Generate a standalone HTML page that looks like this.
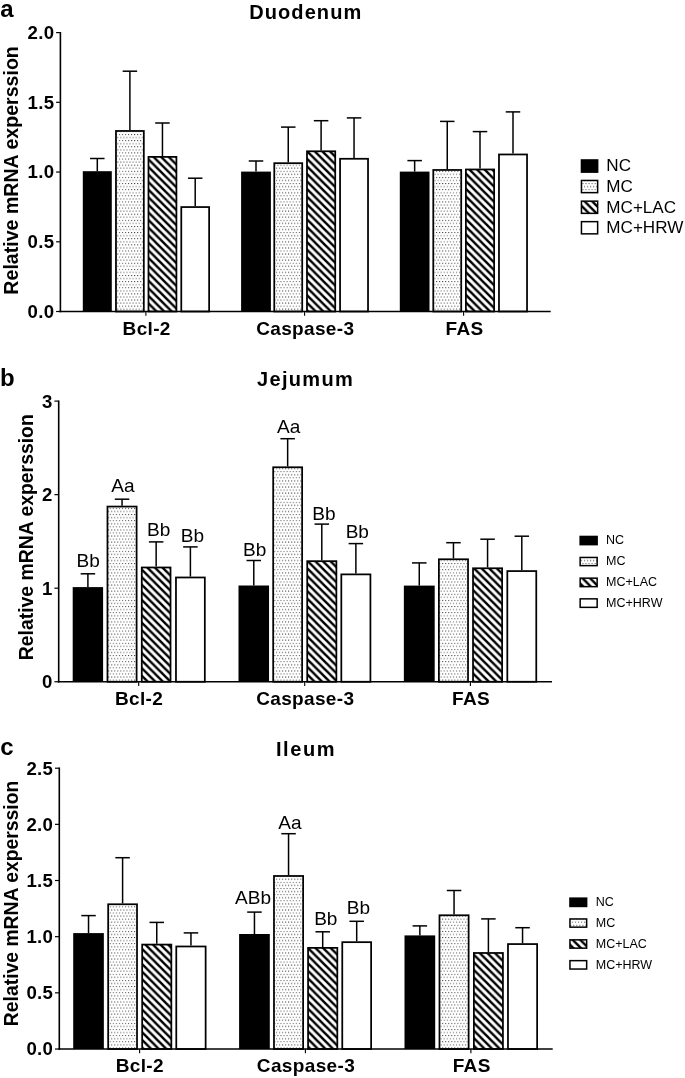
<!DOCTYPE html>
<html lang="en"><head><meta charset="utf-8"><title>Relative mRNA expression</title>
<style>
html,body{margin:0;padding:0;background:#fff}
svg{display:block}
svg text{font-family:"Liberation Sans",Arial,Helvetica,sans-serif;fill:#000;stroke:none}
</style></head><body>
<svg width="685" height="1078" viewBox="0 0 685 1078" stroke="#000" fill="none">
<defs>
<pattern id="dots" patternUnits="userSpaceOnUse" width="3.05" height="6.13" patternTransform="translate(118.85,134.02)">
<rect width="3.05" height="6.13" fill="#fff" stroke="none"/>
<rect x="0" y="0" width="1" height="1" fill="#404040" stroke="none"/>
<rect x="1.525" y="3.065" width="1" height="1" fill="#404040" stroke="none"/>
</pattern>
<pattern id="hatch" patternUnits="userSpaceOnUse" width="7.58" height="7.58" patternTransform="translate(0,3.32)">
<rect width="7.58" height="7.58" fill="#fff" stroke="none"/>
<path d="M-7.58,-7.58 L15.16,15.16 M-7.58,0 L7.58,15.16 M0,-7.58 L15.16,7.58" stroke="#000" stroke-width="2.45" fill="none"/>
</pattern>
</defs>
<rect width="685" height="1078" fill="#fff" stroke="none"/>
<line x1="97.3" y1="171.2" x2="97.3" y2="158.5" stroke-width="1.5"/>
<line x1="90.05" y1="158.5" x2="104.55" y2="158.5" stroke-width="1.5"/>
<rect x="82.8" y="171.2" width="29" height="140.3" fill="#000" stroke="none"/>
<line x1="129.9" y1="130.1" x2="129.9" y2="71.2" stroke-width="1.5"/>
<line x1="122.65" y1="71.2" x2="137.15" y2="71.2" stroke-width="1.5"/>
<rect x="115.97" y="130.97" width="27.85" height="180.53" fill="url(#dots)" stroke-width="1.75"/>
<line x1="162.45" y1="156" x2="162.45" y2="123" stroke-width="1.5"/>
<line x1="155.2" y1="123" x2="169.7" y2="123" stroke-width="1.5"/>
<rect x="148.47" y="156.88" width="27.95" height="154.62" fill="url(#hatch)" stroke-width="1.75"/>
<line x1="195.2" y1="206.2" x2="195.2" y2="178.2" stroke-width="1.5"/>
<line x1="187.95" y1="178.2" x2="202.45" y2="178.2" stroke-width="1.5"/>
<rect x="181.28" y="207.07" width="27.85" height="104.43" fill="#fff" stroke-width="1.75"/>
<line x1="256" y1="171.6" x2="256" y2="161" stroke-width="1.5"/>
<line x1="248.75" y1="161" x2="263.25" y2="161" stroke-width="1.5"/>
<rect x="241.1" y="171.6" width="29.8" height="139.9" fill="#000" stroke="none"/>
<line x1="288.25" y1="162.3" x2="288.25" y2="127.1" stroke-width="1.5"/>
<line x1="281" y1="127.1" x2="295.5" y2="127.1" stroke-width="1.5"/>
<rect x="274.27" y="163.18" width="27.95" height="148.32" fill="url(#dots)" stroke-width="1.75"/>
<line x1="321.1" y1="150.4" x2="321.1" y2="120.7" stroke-width="1.5"/>
<line x1="313.85" y1="120.7" x2="328.35" y2="120.7" stroke-width="1.5"/>
<rect x="306.98" y="151.28" width="28.25" height="160.22" fill="url(#hatch)" stroke-width="1.75"/>
<line x1="354.05" y1="157.9" x2="354.05" y2="117.9" stroke-width="1.5"/>
<line x1="346.8" y1="117.9" x2="361.3" y2="117.9" stroke-width="1.5"/>
<rect x="340.07" y="158.78" width="27.95" height="152.72" fill="#fff" stroke-width="1.75"/>
<line x1="414.65" y1="171.6" x2="414.65" y2="160.6" stroke-width="1.5"/>
<line x1="407.4" y1="160.6" x2="421.9" y2="160.6" stroke-width="1.5"/>
<rect x="399.8" y="171.6" width="29.7" height="139.9" fill="#000" stroke="none"/>
<line x1="447.25" y1="169.1" x2="447.25" y2="121.4" stroke-width="1.5"/>
<line x1="440" y1="121.4" x2="454.5" y2="121.4" stroke-width="1.5"/>
<rect x="433.27" y="169.97" width="27.95" height="141.53" fill="url(#dots)" stroke-width="1.75"/>
<line x1="480" y1="168.6" x2="480" y2="131.6" stroke-width="1.5"/>
<line x1="472.75" y1="131.6" x2="487.25" y2="131.6" stroke-width="1.5"/>
<rect x="465.88" y="169.47" width="28.25" height="142.03" fill="url(#hatch)" stroke-width="1.75"/>
<line x1="513" y1="153.6" x2="513" y2="111.9" stroke-width="1.5"/>
<line x1="505.75" y1="111.9" x2="520.25" y2="111.9" stroke-width="1.5"/>
<rect x="498.98" y="154.47" width="28.05" height="157.03" fill="#fff" stroke-width="1.75"/>
<line x1="60.4" y1="32" x2="60.4" y2="312.3" stroke-width="1.6"/>
<line x1="59.6" y1="311.5" x2="550.7" y2="311.5" stroke-width="1.6"/>
<line x1="56.1" y1="32.6" x2="60.4" y2="32.6" stroke-width="1.2"/>
<text x="54.4" y="39" font-size="18.6" font-weight="bold" text-anchor="end" letter-spacing="0.35">2.0</text>
<line x1="56.1" y1="102.3" x2="60.4" y2="102.3" stroke-width="1.2"/>
<text x="54.4" y="108.7" font-size="18.6" font-weight="bold" text-anchor="end" letter-spacing="0.35">1.5</text>
<line x1="56.1" y1="172.05" x2="60.4" y2="172.05" stroke-width="1.2"/>
<text x="54.4" y="178.45" font-size="18.6" font-weight="bold" text-anchor="end" letter-spacing="0.35">1.0</text>
<line x1="56.1" y1="241.8" x2="60.4" y2="241.8" stroke-width="1.2"/>
<text x="54.4" y="248.2" font-size="18.6" font-weight="bold" text-anchor="end" letter-spacing="0.35">0.5</text>
<line x1="56.1" y1="311.5" x2="60.4" y2="311.5" stroke-width="1.2"/>
<text x="54.4" y="317.9" font-size="18.6" font-weight="bold" text-anchor="end" letter-spacing="0.35">0.0</text>
<line x1="145.9" y1="311.5" x2="145.9" y2="315.8" stroke-width="1.1"/>
<text x="146.68" y="335.1" font-size="19" font-weight="bold" text-anchor="middle" letter-spacing="0.35">Bcl-2</text>
<line x1="304.6" y1="311.5" x2="304.6" y2="315.8" stroke-width="1.1"/>
<text x="305.28" y="335.1" font-size="19" font-weight="bold" text-anchor="middle" letter-spacing="0.35">Caspase-3</text>
<line x1="463.6" y1="311.5" x2="463.6" y2="315.8" stroke-width="1.1"/>
<text x="464.57" y="335.1" font-size="19" font-weight="bold" text-anchor="middle" letter-spacing="0.35">FAS</text>
<text x="305.75" y="19.4" font-size="20" font-weight="bold" text-anchor="middle" letter-spacing="1.09">Duodenum</text>
<text x="0.3" y="17.2" font-size="24" font-weight="bold">a</text>
<text transform="translate(18.4,170.4) rotate(-90)" font-size="19.5" font-weight="bold" text-anchor="middle" textLength="248.5" lengthAdjust="spacingAndGlyphs">Relative mRNA experssion</text>
<rect x="580.7" y="159.2" width="17.7" height="13.7" fill="#000" stroke="none"/>
<text transform="translate(606.3,171.35) scale(1.069,1)" font-size="16">NC</text>
<rect x="581.45" y="180.45" width="16.2" height="12.2" fill="url(#dots)" stroke-width="1.5"/>
<text transform="translate(606.3,191.85) scale(1.069,1)" font-size="16">MC</text>
<rect x="581.45" y="201.15" width="16.2" height="12.2" fill="url(#hatch)" stroke-width="1.5"/>
<text transform="translate(606.3,212.55) scale(1.069,1)" font-size="16">MC+LAC</text>
<rect x="581.45" y="221.65" width="16.2" height="12.2" fill="#fff" stroke-width="1.5"/>
<text transform="translate(606.3,233.05) scale(1.069,1)" font-size="16">MC+HRW</text>
<line x1="87.9" y1="587.1" x2="87.9" y2="573.8" stroke-width="1.5"/>
<line x1="80.65" y1="573.8" x2="95.15" y2="573.8" stroke-width="1.5"/>
<rect x="72.7" y="587.1" width="30.4" height="94.65" fill="#000" stroke="none"/>
<line x1="122.05" y1="505.7" x2="122.05" y2="499.2" stroke-width="1.5"/>
<line x1="114.8" y1="499.2" x2="129.3" y2="499.2" stroke-width="1.5"/>
<rect x="107.47" y="506.57" width="29.15" height="175.18" fill="url(#dots)" stroke-width="1.75"/>
<line x1="156.15" y1="566.6" x2="156.15" y2="541.9" stroke-width="1.5"/>
<line x1="148.9" y1="541.9" x2="163.4" y2="541.9" stroke-width="1.5"/>
<rect x="141.78" y="567.48" width="28.75" height="114.27" fill="url(#hatch)" stroke-width="1.75"/>
<line x1="190.4" y1="576.6" x2="190.4" y2="546.9" stroke-width="1.5"/>
<line x1="183.15" y1="546.9" x2="197.65" y2="546.9" stroke-width="1.5"/>
<rect x="175.97" y="577.48" width="28.85" height="104.27" fill="#fff" stroke-width="1.75"/>
<line x1="253.78" y1="585.5" x2="253.78" y2="560.5" stroke-width="1.5"/>
<line x1="246.53" y1="560.5" x2="261.02" y2="560.5" stroke-width="1.5"/>
<rect x="238.5" y="585.5" width="30.55" height="96.25" fill="#000" stroke="none"/>
<line x1="287.65" y1="466.4" x2="287.65" y2="438.7" stroke-width="1.5"/>
<line x1="280.4" y1="438.7" x2="294.9" y2="438.7" stroke-width="1.5"/>
<rect x="273.18" y="467.27" width="28.95" height="214.48" fill="url(#dots)" stroke-width="1.75"/>
<line x1="321.8" y1="560.3" x2="321.8" y2="524.1" stroke-width="1.5"/>
<line x1="314.55" y1="524.1" x2="329.05" y2="524.1" stroke-width="1.5"/>
<rect x="307.23" y="561.17" width="29.15" height="120.58" fill="url(#hatch)" stroke-width="1.75"/>
<line x1="355.88" y1="573.5" x2="355.88" y2="543.6" stroke-width="1.5"/>
<line x1="348.62" y1="543.6" x2="363.12" y2="543.6" stroke-width="1.5"/>
<rect x="341.32" y="574.38" width="29.1" height="107.38" fill="#fff" stroke-width="1.75"/>
<line x1="419.27" y1="585.6" x2="419.27" y2="562.9" stroke-width="1.5"/>
<line x1="412.02" y1="562.9" x2="426.52" y2="562.9" stroke-width="1.5"/>
<rect x="403.85" y="585.6" width="30.85" height="96.15" fill="#000" stroke="none"/>
<line x1="453.45" y1="558.4" x2="453.45" y2="542.7" stroke-width="1.5"/>
<line x1="446.2" y1="542.7" x2="460.7" y2="542.7" stroke-width="1.5"/>
<rect x="438.88" y="559.27" width="29.15" height="122.48" fill="url(#dots)" stroke-width="1.75"/>
<line x1="487.57" y1="567.4" x2="487.57" y2="539.2" stroke-width="1.5"/>
<line x1="480.32" y1="539.2" x2="494.82" y2="539.2" stroke-width="1.5"/>
<rect x="473.02" y="568.27" width="29.1" height="113.48" fill="url(#hatch)" stroke-width="1.75"/>
<line x1="521.8" y1="570.2" x2="521.8" y2="536.2" stroke-width="1.5"/>
<line x1="514.55" y1="536.2" x2="529.05" y2="536.2" stroke-width="1.5"/>
<rect x="507.32" y="571.08" width="28.95" height="110.67" fill="#fff" stroke-width="1.75"/>
<line x1="58.7" y1="400.5" x2="58.7" y2="682.55" stroke-width="1.6"/>
<line x1="57.9" y1="681.75" x2="552" y2="681.75" stroke-width="1.6"/>
<line x1="54.4" y1="401.1" x2="58.7" y2="401.1" stroke-width="1.2"/>
<text x="52.7" y="407.5" font-size="18.6" font-weight="bold" text-anchor="end" letter-spacing="0.35">3</text>
<line x1="54.4" y1="494.65" x2="58.7" y2="494.65" stroke-width="1.2"/>
<text x="52.7" y="501.05" font-size="18.6" font-weight="bold" text-anchor="end" letter-spacing="0.35">2</text>
<line x1="54.4" y1="588.2" x2="58.7" y2="588.2" stroke-width="1.2"/>
<text x="52.7" y="594.6" font-size="18.6" font-weight="bold" text-anchor="end" letter-spacing="0.35">1</text>
<line x1="54.4" y1="681.75" x2="58.7" y2="681.75" stroke-width="1.2"/>
<text x="52.7" y="688.15" font-size="18.6" font-weight="bold" text-anchor="end" letter-spacing="0.35">0</text>
<line x1="138.7" y1="681.75" x2="138.7" y2="686.05" stroke-width="1.1"/>
<text x="139.08" y="705.4" font-size="19" font-weight="bold" text-anchor="middle" letter-spacing="0.35">Bcl-2</text>
<line x1="304.7" y1="681.75" x2="304.7" y2="686.05" stroke-width="1.1"/>
<text x="305.28" y="705.4" font-size="19" font-weight="bold" text-anchor="middle" letter-spacing="0.35">Caspase-3</text>
<line x1="470.4" y1="681.75" x2="470.4" y2="686.05" stroke-width="1.1"/>
<text x="470.98" y="705.4" font-size="19" font-weight="bold" text-anchor="middle" letter-spacing="0.35">FAS</text>
<text x="305.55" y="386.4" font-size="20" font-weight="bold" text-anchor="middle" letter-spacing="1.3">Jejumum</text>
<text x="0.1" y="386.3" font-size="24" font-weight="bold">b</text>
<text transform="translate(32.8,537.2) rotate(-90)" font-size="19.5" font-weight="bold" text-anchor="middle" textLength="246" lengthAdjust="spacingAndGlyphs">Relative mRNA experssion</text>
<text transform="translate(88.1,566.8) scale(1.06,1)" font-size="18" text-anchor="middle">Bb</text>
<text transform="translate(122.9,492) scale(1.06,1)" font-size="18" text-anchor="middle">Aa</text>
<text transform="translate(158.6,536.1) scale(1.06,1)" font-size="18" text-anchor="middle">Bb</text>
<text transform="translate(192.4,541.9) scale(1.06,1)" font-size="18" text-anchor="middle">Bb</text>
<text transform="translate(254.7,555.5) scale(1.06,1)" font-size="18" text-anchor="middle">Bb</text>
<text transform="translate(288.6,433) scale(1.06,1)" font-size="18" text-anchor="middle">Aa</text>
<text transform="translate(324,519.8) scale(1.06,1)" font-size="18" text-anchor="middle">Bb</text>
<text transform="translate(357.3,537.8) scale(1.06,1)" font-size="18" text-anchor="middle">Bb</text>
<rect x="579.4" y="535.7" width="18.5" height="9.7" fill="#000" stroke="none"/>
<text x="606.1" y="544.35" font-size="12.5">NC</text>
<rect x="580.15" y="557.45" width="17" height="8.2" fill="url(#dots)" stroke-width="1.5"/>
<text x="606.1" y="565.35" font-size="12.5">MC</text>
<rect x="580.15" y="578.15" width="17" height="8.5" fill="url(#hatch)" stroke-width="1.5"/>
<text x="606.1" y="586.2" font-size="12.5">MC+LAC</text>
<rect x="580.15" y="598.85" width="17" height="8.5" fill="#fff" stroke-width="1.5"/>
<text x="606.1" y="606.9" font-size="12.5">MC+HRW</text>
<line x1="88.53" y1="933.1" x2="88.53" y2="915.6" stroke-width="1.5"/>
<line x1="81.28" y1="915.6" x2="95.78" y2="915.6" stroke-width="1.5"/>
<rect x="73.2" y="933.1" width="30.65" height="115.9" fill="#000" stroke="none"/>
<line x1="122.6" y1="903.4" x2="122.6" y2="857.7" stroke-width="1.5"/>
<line x1="115.35" y1="857.7" x2="129.85" y2="857.7" stroke-width="1.5"/>
<rect x="108.17" y="904.27" width="28.85" height="144.73" fill="url(#dots)" stroke-width="1.75"/>
<line x1="156.75" y1="943.7" x2="156.75" y2="922.4" stroke-width="1.5"/>
<line x1="149.5" y1="922.4" x2="164" y2="922.4" stroke-width="1.5"/>
<rect x="142.18" y="944.58" width="29.15" height="104.42" fill="url(#hatch)" stroke-width="1.75"/>
<line x1="190.95" y1="945.6" x2="190.95" y2="932.9" stroke-width="1.5"/>
<line x1="183.7" y1="932.9" x2="198.2" y2="932.9" stroke-width="1.5"/>
<rect x="176.28" y="946.48" width="29.35" height="102.52" fill="#fff" stroke-width="1.75"/>
<line x1="254.45" y1="934" x2="254.45" y2="912.1" stroke-width="1.5"/>
<line x1="247.2" y1="912.1" x2="261.7" y2="912.1" stroke-width="1.5"/>
<rect x="239.1" y="934" width="30.7" height="115" fill="#000" stroke="none"/>
<line x1="288.55" y1="875.1" x2="288.55" y2="833.7" stroke-width="1.5"/>
<line x1="281.3" y1="833.7" x2="295.8" y2="833.7" stroke-width="1.5"/>
<rect x="273.98" y="875.98" width="29.15" height="173.02" fill="url(#dots)" stroke-width="1.75"/>
<line x1="322.7" y1="947" x2="322.7" y2="931.8" stroke-width="1.5"/>
<line x1="315.45" y1="931.8" x2="329.95" y2="931.8" stroke-width="1.5"/>
<rect x="308.07" y="947.88" width="29.25" height="101.12" fill="url(#hatch)" stroke-width="1.75"/>
<line x1="356.7" y1="941.3" x2="356.7" y2="921.3" stroke-width="1.5"/>
<line x1="349.45" y1="921.3" x2="363.95" y2="921.3" stroke-width="1.5"/>
<rect x="342.27" y="942.17" width="28.85" height="106.83" fill="#fff" stroke-width="1.75"/>
<line x1="419.85" y1="935.4" x2="419.85" y2="925.9" stroke-width="1.5"/>
<line x1="412.6" y1="925.9" x2="427.1" y2="925.9" stroke-width="1.5"/>
<rect x="404.5" y="935.4" width="30.7" height="113.6" fill="#000" stroke="none"/>
<line x1="454.05" y1="914.4" x2="454.05" y2="890.5" stroke-width="1.5"/>
<line x1="446.8" y1="890.5" x2="461.3" y2="890.5" stroke-width="1.5"/>
<rect x="439.48" y="915.27" width="29.15" height="133.73" fill="url(#dots)" stroke-width="1.75"/>
<line x1="488.4" y1="952.1" x2="488.4" y2="918.9" stroke-width="1.5"/>
<line x1="481.15" y1="918.9" x2="495.65" y2="918.9" stroke-width="1.5"/>
<rect x="473.88" y="952.98" width="29.05" height="96.02" fill="url(#hatch)" stroke-width="1.75"/>
<line x1="522.55" y1="943.2" x2="522.55" y2="927.7" stroke-width="1.5"/>
<line x1="515.3" y1="927.7" x2="529.8" y2="927.7" stroke-width="1.5"/>
<rect x="507.98" y="944.08" width="29.15" height="104.92" fill="#fff" stroke-width="1.75"/>
<line x1="59.3" y1="767.6" x2="59.3" y2="1049.8" stroke-width="1.6"/>
<line x1="58.5" y1="1049" x2="552.7" y2="1049" stroke-width="1.6"/>
<line x1="55" y1="768.2" x2="59.3" y2="768.2" stroke-width="1.2"/>
<text x="53.3" y="774.6" font-size="18.6" font-weight="bold" text-anchor="end" letter-spacing="0.35">2.5</text>
<line x1="55" y1="824.36" x2="59.3" y2="824.36" stroke-width="1.2"/>
<text x="53.3" y="830.76" font-size="18.6" font-weight="bold" text-anchor="end" letter-spacing="0.35">2.0</text>
<line x1="55" y1="880.52" x2="59.3" y2="880.52" stroke-width="1.2"/>
<text x="53.3" y="886.92" font-size="18.6" font-weight="bold" text-anchor="end" letter-spacing="0.35">1.5</text>
<line x1="55" y1="936.68" x2="59.3" y2="936.68" stroke-width="1.2"/>
<text x="53.3" y="943.08" font-size="18.6" font-weight="bold" text-anchor="end" letter-spacing="0.35">1.0</text>
<line x1="55" y1="992.84" x2="59.3" y2="992.84" stroke-width="1.2"/>
<text x="53.3" y="999.24" font-size="18.6" font-weight="bold" text-anchor="end" letter-spacing="0.35">0.5</text>
<line x1="55" y1="1049" x2="59.3" y2="1049" stroke-width="1.2"/>
<text x="53.3" y="1055.4" font-size="18.6" font-weight="bold" text-anchor="end" letter-spacing="0.35">0.0</text>
<line x1="139.6" y1="1049" x2="139.6" y2="1053.3" stroke-width="1.1"/>
<text x="139.78" y="1072.1" font-size="19" font-weight="bold" text-anchor="middle" letter-spacing="0.35">Bcl-2</text>
<line x1="305.4" y1="1049" x2="305.4" y2="1053.3" stroke-width="1.1"/>
<text x="305.98" y="1072.1" font-size="19" font-weight="bold" text-anchor="middle" letter-spacing="0.35">Caspase-3</text>
<line x1="470.9" y1="1049" x2="470.9" y2="1053.3" stroke-width="1.1"/>
<text x="471.68" y="1072.1" font-size="19" font-weight="bold" text-anchor="middle" letter-spacing="0.35">FAS</text>
<text x="306" y="756.3" font-size="20" font-weight="bold" text-anchor="middle" letter-spacing="1.6">Ileum</text>
<text x="0.3" y="755.3" font-size="24" font-weight="bold">c</text>
<text transform="translate(18,903.4) rotate(-90)" font-size="19.5" font-weight="bold" text-anchor="middle" textLength="245.5" lengthAdjust="spacingAndGlyphs">Relative mRNA experssion</text>
<text transform="translate(253,904.3) scale(1.06,1)" font-size="18" text-anchor="middle">ABb</text>
<text transform="translate(289.9,828.7) scale(1.06,1)" font-size="18" text-anchor="middle">Aa</text>
<text transform="translate(325.8,924.8) scale(1.06,1)" font-size="18" text-anchor="middle">Bb</text>
<text transform="translate(358.5,914.3) scale(1.06,1)" font-size="18" text-anchor="middle">Bb</text>
<rect x="569.2" y="897.4" width="18.2" height="9.8" fill="#000" stroke="none"/>
<text x="595.8" y="906.1" font-size="12.5">NC</text>
<rect x="569.95" y="918.95" width="16.7" height="8.2" fill="url(#dots)" stroke-width="1.5"/>
<text x="595.8" y="926.85" font-size="12.5">MC</text>
<rect x="569.95" y="939.85" width="16.7" height="8.3" fill="url(#hatch)" stroke-width="1.5"/>
<text x="595.8" y="947.8" font-size="12.5">MC+LAC</text>
<rect x="569.95" y="960.65" width="16.7" height="8.4" fill="#fff" stroke-width="1.5"/>
<text x="595.8" y="968.65" font-size="12.5">MC+HRW</text>
</svg>
</body></html>
